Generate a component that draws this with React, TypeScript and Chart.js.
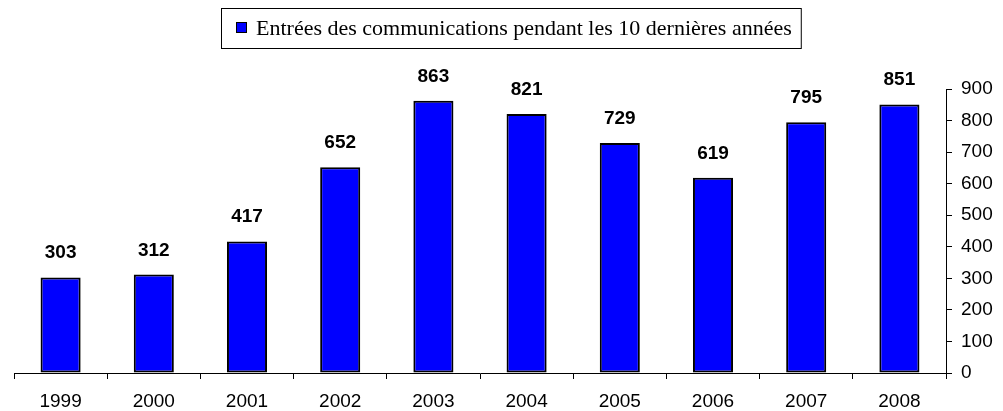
import React, { useEffect, useRef } from "react";
import { Chart, registerables } from "chart.js";

Chart.register(...registerables);

const years: string[] = ["1999", "2000", "2001", "2002", "2003", "2004", "2005", "2006", "2007", "2008"];
const entries: number[] = [303, 312, 417, 652, 863, 821, 729, 619, 795, 851];
const yTicks: number[] = [0, 100, 200, 300, 400, 500, 600, 700, 800, 900];
const legendLabel = "Entrées des communications pendant les 10 dernières années";

const SANS = "'Liberation Sans', Arial, sans-serif";
const SERIF = "'Liberation Serif', 'Times New Roman', serif";

const valueLabels = {
  id: "valueLabels",
  afterDatasetsDraw(chart: any) {
    const ctx = chart.ctx;
    const meta = chart.getDatasetMeta(0);
    ctx.save();
    ctx.font = `bold 19px ${SANS}`;
    ctx.fillStyle = "#000";
    ctx.textAlign = "center";
    ctx.textBaseline = "alphabetic";
    meta.data.forEach((bar: any, i: number) => {
      ctx.fillText(String(entries[i]), bar.x, bar.y - 19);
    });
    ctx.restore();
  },
};

const boxedLegend = {
  id: "boxedLegend",
  afterDraw(chart: any) {
    const ctx = chart.ctx;
    ctx.save();
    ctx.font = `22px ${SERIF}`;
    const tw = ctx.measureText(legendLabel).width;
    const boxL = 221;
    const boxT = 8;
    const boxH = 40;
    const sq = 11;
    const textX = boxL + 35;
    const boxW = textX - boxL + tw + 9;
    ctx.fillStyle = "#fff";
    ctx.fillRect(boxL, boxT, boxW, boxH);
    ctx.strokeStyle = "#000";
    ctx.lineWidth = 1;
    ctx.strokeRect(boxL + 0.5, boxT + 0.5, boxW, boxH);
    ctx.fillStyle = "#0000ff";
    ctx.fillRect(boxL + 15, 22, sq, sq);
    ctx.strokeRect(boxL + 15.5, 22.5, sq - 1, sq - 1);
    ctx.fillStyle = "#000";
    ctx.textAlign = "left";
    ctx.textBaseline = "middle";
    ctx.fillText(legendLabel, textX, boxT + boxH / 2 + 1);
    ctx.restore();
  },
};

export default function App() {
  const ref = useRef<HTMLCanvasElement | null>(null);

  useEffect(() => {
    document.body.style.margin = "0";
    const canvas = ref.current;
    if (!canvas) return;
    const chart = new Chart(canvas, {
      type: "bar",
      data: {
        labels: years,
        datasets: [
          {
            label: legendLabel,
            data: entries,
            backgroundColor: "#0000ff",
            borderColor: "#000000",
            borderWidth: 2,
            borderSkipped: false,
            categoryPercentage: 1,
            barPercentage: 0.43,
          },
        ],
      },
      options: {
        responsive: false,
        animation: false,
        layout: { padding: { top: 89, left: 14, right: 0, bottom: 0 } },
        plugins: {
          legend: { display: false },
          tooltip: { enabled: false },
          title: { display: false },
        },
        scales: {
          x: {
            offset: true,
            grid: {
              offset: true,
              drawOnChartArea: false,
              drawTicks: true,
              tickLength: 6,
              color: "#000",
            },
            border: { display: true, color: "#000", width: 1 },
            ticks: {
              color: "#000",
              font: { family: SANS, size: 19 },
              padding: 11,
              maxRotation: 0,
            },
            afterFit(scale: any) {
              scale.height = 38;
            },
          },
          y: {
            position: "right",
            min: 0,
            max: 900,
            afterBuildTicks(scale: any) {
              scale.ticks = yTicks.map((v) => ({ value: v }));
            },
            grid: {
              drawOnChartArea: false,
              drawTicks: true,
              tickLength: 6,
              color: "#000",
            },
            border: { display: true, color: "#000", width: 1 },
            ticks: {
              color: "#000",
              font: { family: SANS, size: 19 },
              padding: 9,
            },
            afterFit(scale: any) {
              scale.width = 57;
            },
          },
        },
      },
      plugins: [valueLabels, boxedLegend],
    });
    return () => chart.destroy();
  }, []);

  return (
    <div style={{ width: 1003, height: 411, background: "#fff" }}>
      <canvas ref={ref} width={1003} height={411} style={{ display: "block" }} />
    </div>
  );
}
